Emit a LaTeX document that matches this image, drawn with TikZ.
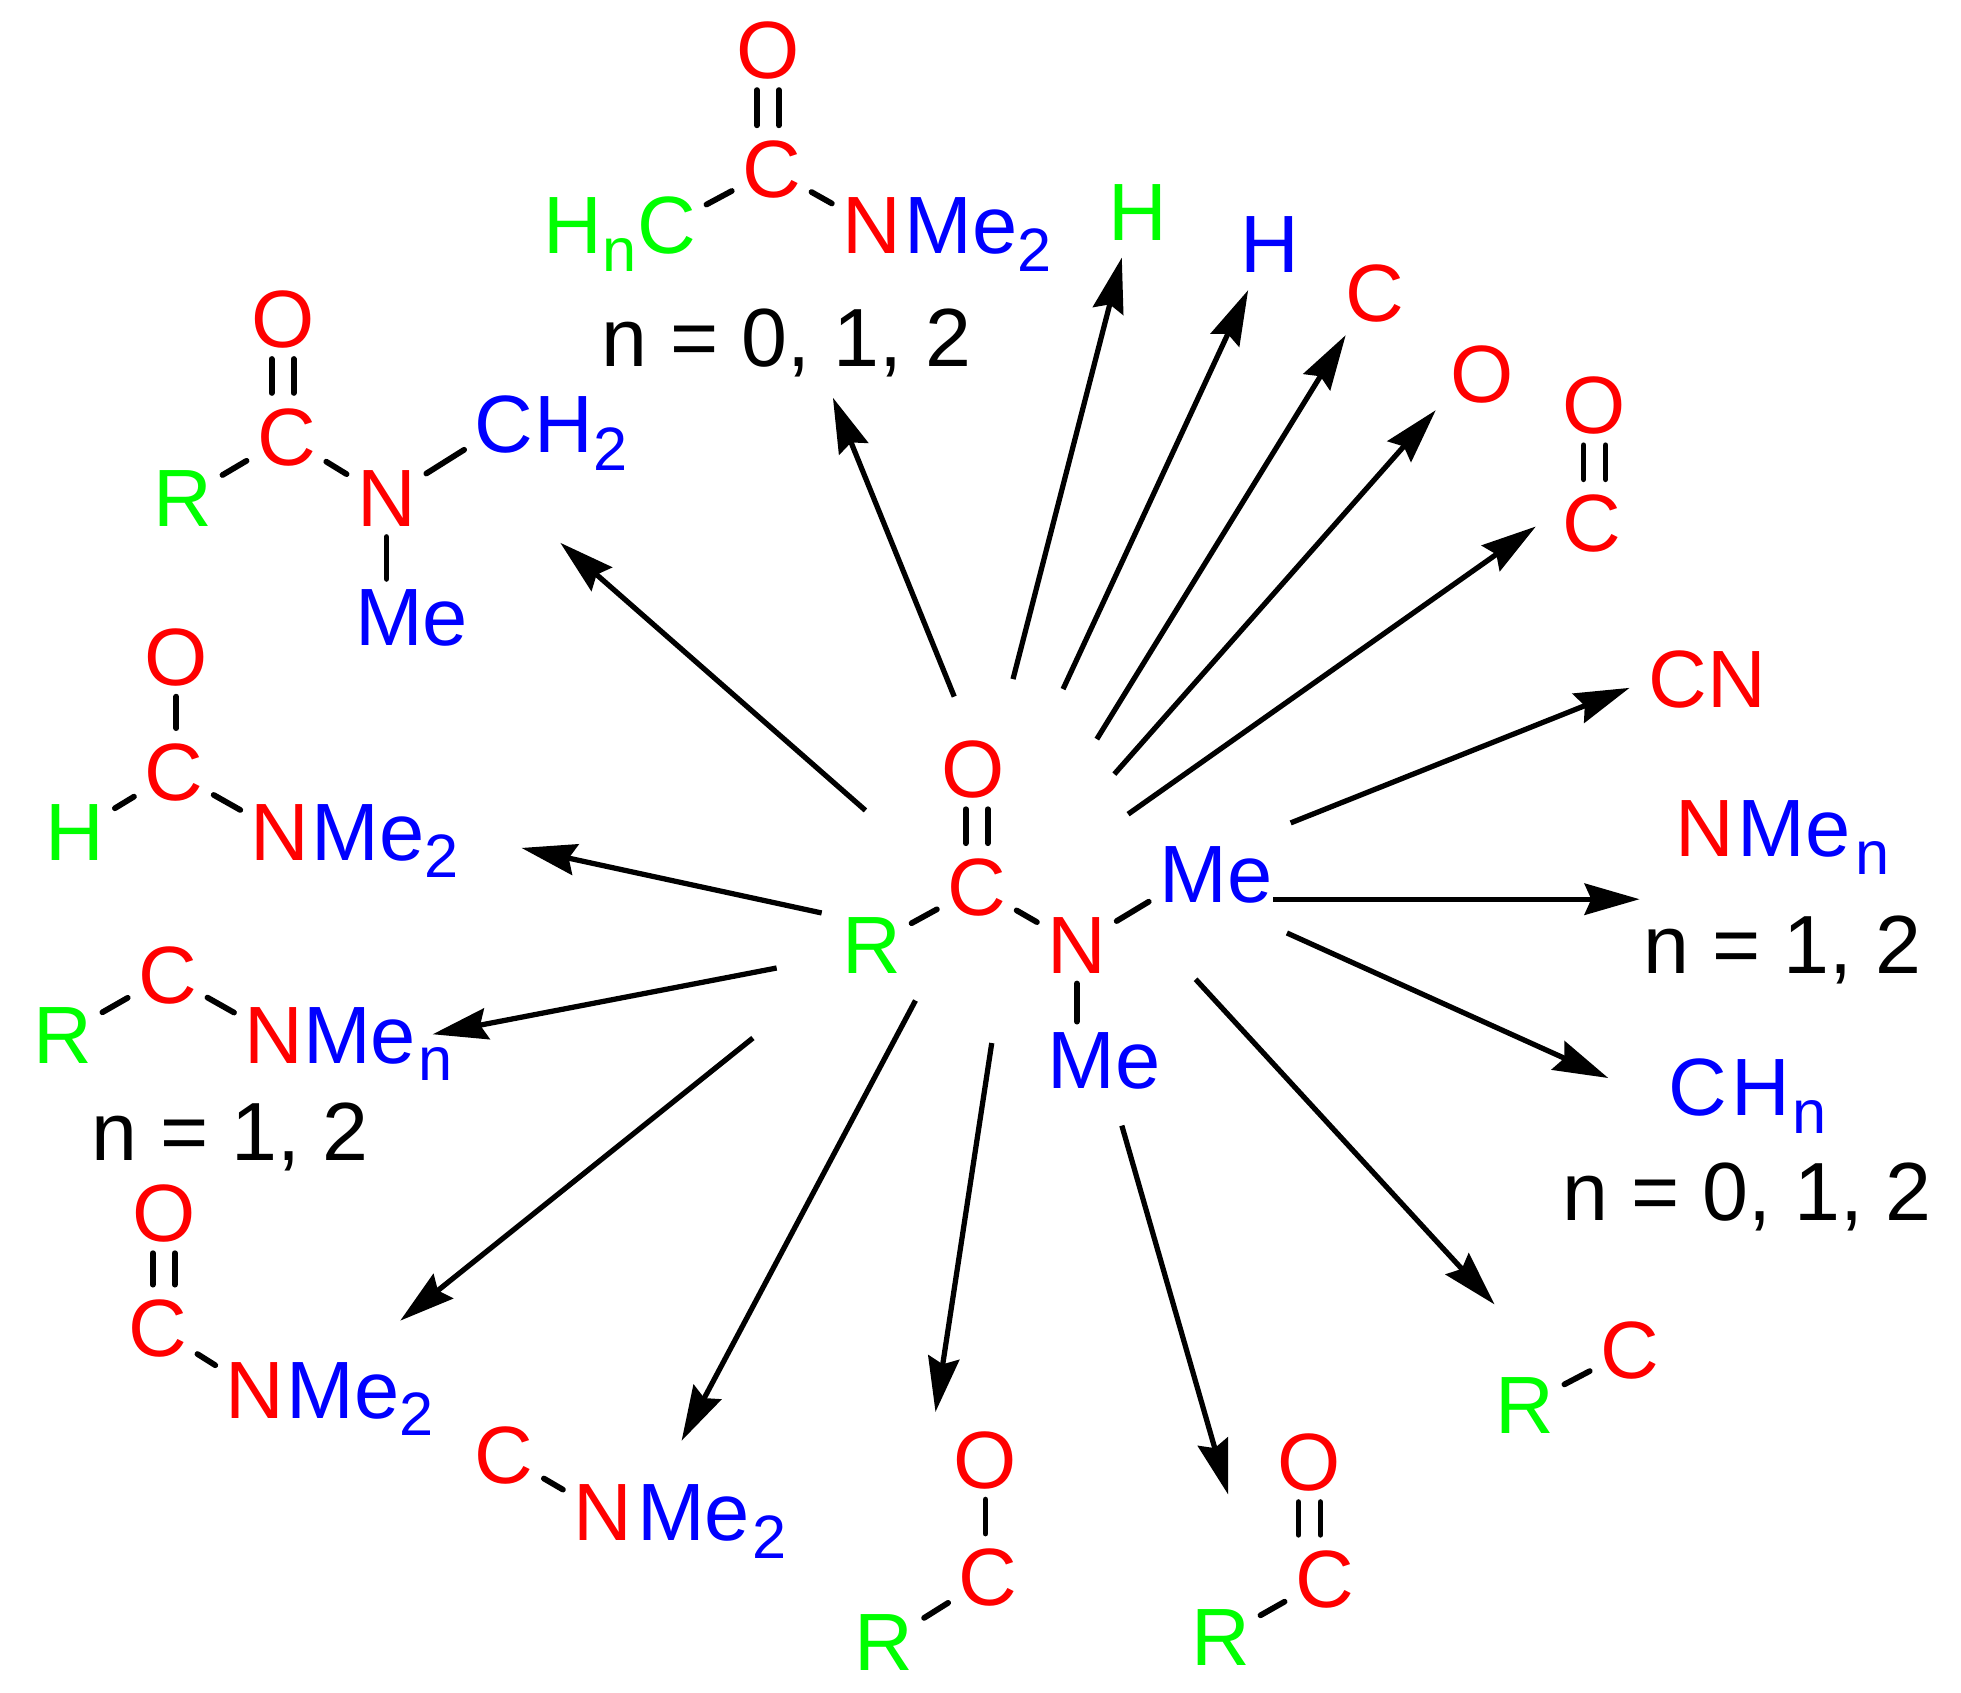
\documentclass[tikz,border=0pt]{standalone}
\usepackage{fontspec}
\setmainfont{Liberation Sans}
\usepackage{tikz}
\usetikzlibrary{arrows.meta}

\newcommand{\atsub}[1]{\raisebox{-7pt}{\fontsize{24.5}{25}\selectfont #1}}
% two upright strokes of a double bond, at the x of #3
\newcommand{\dblbond}[3]{
  \draw[bond,shorten >=2pt] ([xshift=-4.4pt]#3.south |- #1.south) -- ([xshift=-4.4pt]#3.south |- #2.north);
  \draw[bond,shorten >=2pt] ([xshift=4.4pt]#3.south |- #1.south) -- ([xshift=4.4pt]#3.south |- #2.north);
}

\tikzset{
  atom/.style={anchor=base, inner sep=4pt, font=\fontsize{32.5}{40}\selectfont},
  redat/.style={atom, text=red},
  greenat/.style={atom, text=green},
  blueat/.style={atom, text=blue},
  blueleft/.style={blueat, anchor=base west},
  nlabel/.style={atom, text=black, font=\fontsize{33}{40}\selectfont},
  bond/.style={line width=2.3pt, line cap=round},
  rxn/.style={line width=2.1pt, -{Stealth[length=22pt,width=12.5pt,inset=2.7pt]}},
}

\begin{document}
\begin{tikzpicture}[x=0.5pt,y=-0.5pt]
\useasboundingbox (0,0) rectangle (1568,1353);

% central molecule
\node[redat] (oc) at (778,638) {O};
\node[redat] (cc) at (781,732) {C};
\node[greenat] (rc) at (697,778) {R};
\node[redat] (nc) at (861,778) {N};
\node[blueat] (mea) at (954,722) {M};
\node[blueleft] (eea) at (973,722) {e};
\node[blueat] (meb) at (883,870) {Me};
\dblbond{oc}{cc}{cc}
\draw[bond] (rc) -- (cc);
\draw[bond] (cc) -- (nc);
\draw[bond] (nc) -- (mea);
\draw[bond] (nc.south) -- (nc.south |- meb.north);

% top
\node[redat] (o1) at (614,63) {O};
\node[redat] (c1) at (617,158) {C};
\node[greenat] (h1) at (472,203) {H\atsub{n}};
\node[greenat] (c1b) at (533,203) {C};
\node[redat] (n1) at (697,203) {N};
\node[blueleft] (me1) at (715,203) {Me\atsub{2}};
\node[nlabel] (lab1) at (629,293) {n = 0, 1, 2};
\dblbond{o1}{c1}{o1}
\draw[bond] (c1b) -- (c1);
\draw[bond] (c1) -- (n1);

% top left
\node[redat] (o2) at (226,278) {O};
\node[redat] (c2) at (229,372) {C};
\node[greenat] (r2) at (146,421) {R};
\node[redat] (n2) at (309,421) {N};
\node[blueat] (c2b) at (403,362) {C};
\node[blueleft] (h2) at (419,362) {H\atsub{2}};
\node[blueat] (me2) at (329,516) {Me};
\dblbond{o2}{c2}{o2}
\draw[bond] (r2) -- (c2);
\draw[bond] (c2) -- (n2);
\draw[bond] (n2) -- (c2b);
\draw[bond] (n2.south) -- (n2.south |- me2.north);

% left, formyl
\node[redat] (o3) at (141,548) {O};
\node[redat] (c3) at (139,640) {C};
\node[greenat] (h3) at (60,688) {H};
\node[redat] (n3) at (224,688) {N};
\node[blueleft] (me3) at (241,688) {Me\atsub{2}};
\draw[bond,shorten >=2pt] (o3.south) -- (o3.south |- c3.north);
\draw[bond] (h3) -- (c3);
\draw[bond] (c3) -- (n3);

% left
\node[greenat] (r4) at (50,850) {R};
\node[redat] (c4) at (134,802) {C};
\node[redat] (n4) at (219,850) {N};
\node[blueleft] (me4) at (234,850) {Me\kern1pt\atsub{n}};
\node[nlabel] (lab4) at (184,928) {n = 1, 2};
\draw[bond] (r4) -- (c4);
\draw[bond] (c4) -- (n4);

% lower left
\node[redat] (o5) at (131,993) {O};
\node[redat] (c5) at (126,1085) {C};
\node[redat] (n5) at (204,1134) {N};
\node[blueleft] (me5) at (221,1134) {Me\atsub{2}};
\dblbond{o5}{c5}{o5}
\draw[bond] (c5) -- (n5);

% bottom
\node[redat] (c6) at (403,1186) {C};
\node[redat] (n6) at (482,1232) {N};
\node[blueleft] (me6) at (501,1232) {Me\kern1pt\atsub{2}};
\draw[bond] (c6) -- (n6);

\node[redat] (o7) at (788,1190) {O};
\node[redat] (c7) at (790,1284) {C};
\node[greenat] (r7) at (707,1336) {R};
\draw[bond,shorten >=2pt] (o7.south) -- (o7.south |- c7.north);
\draw[bond] (r7) -- (c7);

\node[redat] (o8) at (1047,1192) {O};
\node[redat] (c8) at (1059,1285) {C};
\node[greenat] (r8) at (976,1332) {R};
\dblbond{o8}{c8}{o8}
\draw[bond] (r8) -- (c8);

\node[redat] (c9) at (1303,1102) {C};
\node[greenat] (r9) at (1219,1146) {R};
\draw[bond] (r9) -- (c9);

% right
\node[blueleft] (ch10) at (1326,892) {C\kern1.5pt H\kern1pt\atsub{n}};
\node[nlabel] (lab10) at (1397,976) {n = 0, 1, 2};
\node[redat] (n11) at (1363,685) {N};
\node[blueleft] (me11) at (1381,685) {Me\kern2pt\atsub{n}};
\node[nlabel] (lab11) at (1425,778) {n = 1, 2};
\node[redat] (cn12) at (1365,566) {CN};
\node[redat] (o13) at (1275,347) {O};
\node[redat] (c13) at (1273,441) {C};
\dblbond{o13}{c13}{o13}
\node[redat] (o14) at (1185,322) {O};
\node[redat] (c15) at (1099,257) {C};
\node[blueat] (h16) at (1015,218) {H};
\node[greenat] (h17) at (910,192) {H};

% arrows
\coordinate (s1) at (763,557);   \coordinate (e1) at (666,318);
\coordinate (s2) at (810,543);   \coordinate (e2) at (897,206);
\coordinate (s3) at (850,551);   \coordinate (e3) at (998,232);
\coordinate (s4) at (877,591);   \coordinate (e4) at (1076,268);
\coordinate (s5) at (891,619);   \coordinate (e5) at (1148,328);
\coordinate (s6) at (902,651);   \coordinate (e6) at (1228,421);
\coordinate (s7) at (1032,658);  \coordinate (e7) at (1303,550);
\coordinate (s8) at (1018,719);  \coordinate (e8) at (1311,719);
\coordinate (s9) at (1029,746);  \coordinate (e9) at (1286,862);
\coordinate (s10) at (956,783);  \coordinate (e10) at (1195,1043);
\coordinate (s11) at (897,900);  \coordinate (e11) at (982,1195);
\coordinate (s12) at (793,834);  \coordinate (e12) at (748,1129);
\coordinate (s13) at (732,800);  \coordinate (e13) at (545,1152);
\coordinate (s14) at (602,830);  \coordinate (e14) at (320,1056);
\coordinate (s15) at (621,774);  \coordinate (e15) at (346,827);
\coordinate (s16) at (657,730);  \coordinate (e16) at (417,678);
\coordinate (s17) at (692,648);  \coordinate (e17) at (448,434);

\foreach \i in {1,...,17}
  \draw[rxn] (s\i) -- (e\i);

\end{tikzpicture}
\end{document}
